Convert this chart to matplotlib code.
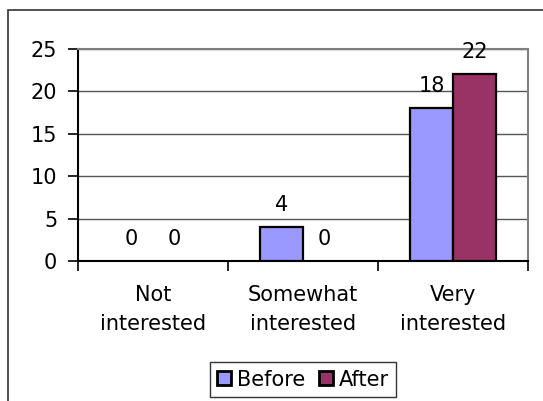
import matplotlib
matplotlib.use("Agg")
import matplotlib.pyplot as plt
import numpy as np
from matplotlib.patches import Rectangle

categories = ["Not\ninterested", "Somewhat\ninterested", "Very\ninterested"]
before = [0, 4, 18]
after = [0, 0, 22]
series_names = ["Before", "After"]
colors = ["#9999FF", "#993366"]

FS = 15

fig = plt.figure(figsize=(5.43, 4.01), dpi=100)
ax = fig.add_axes([78 / 543, 1 - 261 / 401, 450 / 543, 212 / 401])

# outer chart frame (only left/top edges fall inside the image)
fig.patches.append(Rectangle((8 / 543, -0.1), 1.2, 1 - 10 / 401 + 0.1,
                             transform=fig.transFigure, fill=False,
                             edgecolor="#333333", linewidth=1.2))

x = np.arange(len(categories))
w = 0.287
for i, (vals, name, col) in enumerate(zip([before, after], series_names, colors)):
    pos = x + (i - 0.5) * w
    bars = ax.bar(pos, vals, width=w, color=col, edgecolor="black",
                  linewidth=1.6, label=name, zorder=3)
    for b, v in zip(bars, vals):
        if v == 0:
            b.set_visible(False)
        ax.annotate(str(v), (b.get_x() + b.get_width() / 2, v),
                    xytext=(0, 22), textcoords="offset pixels",
                    ha="center", va="center", fontsize=FS, zorder=4)

ax.set_xlim(-0.5, 2.5)
ax.set_ylim(0, 25)
ax.set_yticks([0, 5, 10, 15, 20, 25])
ax.yaxis.grid(True, color="#555555", linewidth=1, zorder=0)
ax.set_axisbelow(True)

ax.set_xticks([-0.5, 0.5, 1.5, 2.5])
ax.set_xticklabels([])
ax.set_xticks(x, minor=True)
ax.set_xticklabels(categories, minor=True, fontsize=FS, linespacing=1.6)
ax.tick_params(axis="x", which="minor", length=0, pad=17)
ax.tick_params(axis="x", which="major", length=7, width=1.2, direction="out")
ax.tick_params(axis="y", length=7, width=1.2, direction="out", labelsize=FS, pad=8)

for s in ["top", "right"]:
    ax.spines[s].set_color("#808080")
    ax.spines[s].set_linewidth(1.5)
for s in ["left", "bottom"]:
    ax.spines[s].set_color("black")
    ax.spines[s].set_linewidth(1.5)

leg = fig.legend(loc="center", bbox_to_anchor=(303 / 543, 1 - 379.5 / 401),
                 ncol=2, fontsize=FS, frameon=True, fancybox=False,
                 handlelength=0.67, handleheight=0.67, handletextpad=0.25,
                 columnspacing=0.7, borderpad=0.35, borderaxespad=0)
leg.get_frame().set_edgecolor("black")
leg.get_frame().set_linewidth(1)
for h in leg.legend_handles:
    h.set_visible(True)
    h.set_linewidth(2)

fig.savefig("out.png", dpi=100)
